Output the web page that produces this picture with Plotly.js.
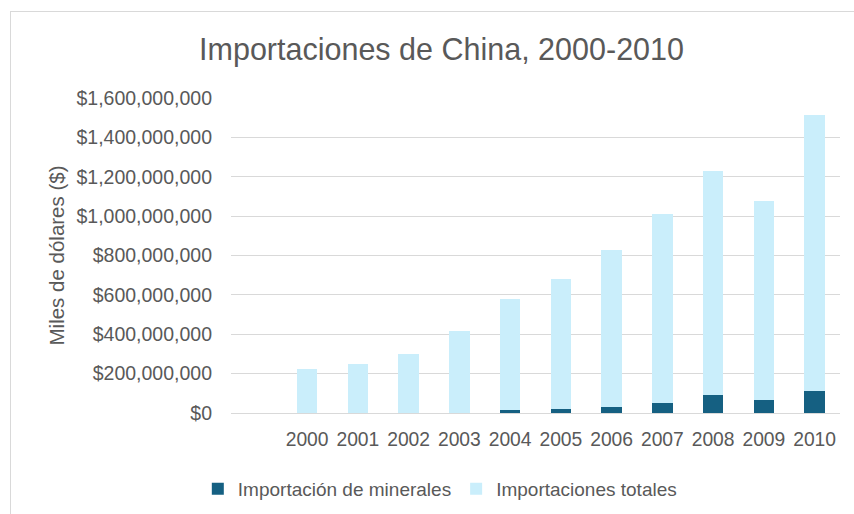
<!DOCTYPE html>
<html>
<head>
<meta charset="utf-8">
<script src="https://cdn.plot.ly/plotly-3.0.1.min.js"></script>
<style>
  html, body { margin: 0; padding: 0; background: #ffffff; }
  #frame { position: absolute; left: 10px; top: 11px; width: 900px; height: 600px; border: 1px solid #d9d9d9; box-sizing: border-box; }
  #chart { position: absolute; left: 0; top: 0; width: 854px; height: 514px; }
</style>
</head>
<body>
<div id="frame"></div>
<div id="chart"></div>
<script>
// Years (categories)
const years = ['2000','2001','2002','2003','2004','2005','2006','2007','2008','2009','2010'];
// Importación de minerales (miles de dólares)
const minerales = [0, 0, 0, 0, 14000000, 22000000, 29000000, 53000000, 89000000, 65000000, 111000000];
// Importaciones totales (miles de dólares)
const totales = [225000000, 247000000, 298000000, 415000000, 566000000, 660000000, 799000000, 956000000, 1139000000, 1010000000, 1403000000];
// Axis ticks
const yTicks = [0, 200000000, 400000000, 600000000, 800000000, 1000000000, 1200000000, 1400000000, 1600000000];
const yTickText = ['$0','$200,000,000','$400,000,000','$600,000,000','$800,000,000','$1,000,000,000','$1,200,000,000','$1,400,000,000','$1,600,000,000'];

const font = 'Liberation Sans, Arial, sans-serif';
const grey = '#595959';

const traces = [
  { type: 'bar', name: 'Importación de minerales', x: years, y: minerales,
    marker: { color: '#156082' }, hoverinfo: 'skip' },
  { type: 'bar', name: 'Importaciones totales', x: years, y: totales,
    marker: { color: '#CAEEFB' }, hoverinfo: 'skip' }
];

const layout = {
  width: 854, height: 514,
  paper_bgcolor: 'rgba(0,0,0,0)', plot_bgcolor: 'rgba(0,0,0,0)',
  margin: { l: 231, r: 14, t: 98, b: 101, autoexpand: false },
  barmode: 'stack',
  bargap: 0.6,
  showlegend: true,
  title: { text: 'Importaciones de China, 2000-2010', x: 0.517, xanchor: 'center', xref: 'container', y: 0.905, yanchor: 'middle',
    font: { family: font, size: 30.5, color: grey } },
  xaxis: { type: 'category', range: [-1.5, 10.5], showgrid: false, zeroline: false, showline: false,
    ticks: '', ticklabelstandoff: 13, tickfont: { family: font, size: 19.3, color: grey }, fixedrange: true },
  yaxis: { range: [0, 1600000000], tickvals: yTicks, ticktext: yTickText, showgrid: true, gridcolor: '#d9d9d9', gridwidth: 1,
    zeroline: true, zerolinecolor: '#d9d9d9', zerolinewidth: 1, showline: false, ticks: '', ticklabelstandoff: 18,
    tickfont: { family: font, size: 19.5, color: grey }, automargin: false,
    title: { text: 'Miles de dólares ($)', standoff: 6, font: { family: font, size: 20.5, color: grey } }, fixedrange: true },
  legend: { orientation: 'h', xref: 'container', yref: 'container', x: 0.515, xanchor: 'center', y: 0.049, yanchor: 'middle',
    traceorder: 'normal', itemgap: 26,
    font: { family: font, size: 19, color: grey }, itemclick: false, itemdoubleclick: false },
};

Plotly.newPlot('chart', traces, layout, { displayModeBar: false, staticPlot: true });
</script>
</body>
</html>
